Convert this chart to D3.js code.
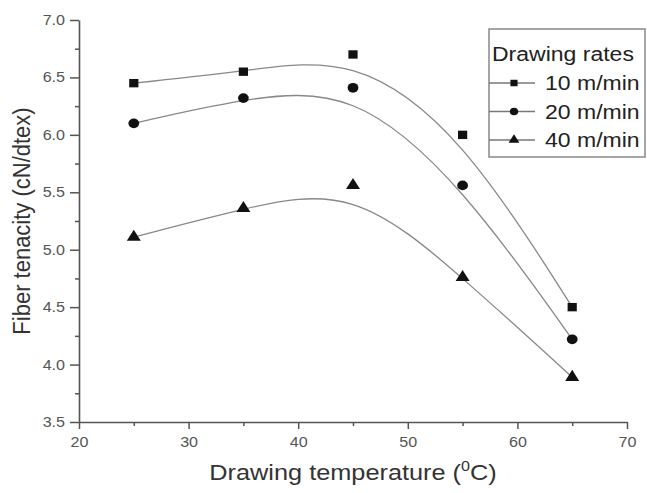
<!DOCTYPE html>
<html lang="en">
<meta charset="utf-8">
<script src="https://d3js.org/d3.v7.min.js"></script>
<style>
  body { margin: 0; background: #fff; }
  text { font-family: "Liberation Sans", Arial, sans-serif; }
</style>
<svg id="base" width="647" height="493"></svg>

<script>
    // values
    var temps = [25, 35, 45, 55, 65];
    var rate10 = [6.45, 6.55, 6.70, 6.00, 4.50];
    var rate20 = [6.10, 6.32, 6.41, 5.56, 4.22];
    var rate40 = [5.11, 5.36, 5.56, 4.76, 3.89];
    var seriesNames = ["10 m/min", "20 m/min", "40 m/min"];
    var xTicks = [20, 30, 40, 50, 60, 70];
    var xMinor = [25, 35, 45, 55, 65];
    var yTicks = [3.5, 4.0, 4.5, 5.0, 5.5, 6.0, 6.5, 7.0];
    var yMinor = [3.75, 4.25, 4.75, 5.25, 5.75, 6.25, 6.75];

    var mLeft = 79, mRight = 627, mTop = 20, mBottom = 422;
    var stretch = 1.15; // the picture is a bit wide

    var svg = d3.select("#base");

    var x = d3.scaleLinear().domain([20, 70]).range([mLeft, mRight]);
    var y = d3.scaleLinear().domain([3.5, 7.0]).range([mBottom, mTop]);

    function widen(sel) {
        sel.each(function () {
            var w = this.getComputedTextLength();
            this.setAttribute("textLength", w * stretch);
            this.setAttribute("lengthAdjust", "spacingAndGlyphs");
        });
    }

    // minor ticks first
    svg.append("g")
        .attr("transform", "translate(0," + mBottom + ")")
        .call(d3.axisBottom(x).tickValues(xMinor).tickSize(4).tickFormat(""))
        .call(function (g) { g.select(".domain").remove(); });
    svg.append("g")
        .attr("transform", "translate(" + mLeft + ",0)")
        .call(d3.axisLeft(y).tickValues(yMinor).tickSize(4).tickFormat(""))
        .call(function (g) { g.select(".domain").remove(); });

    svg.append("g")
        .attr("transform", "translate(0," + mBottom + ")")
        .call(d3.axisBottom(x).tickValues(xTicks).tickSizeInner(7).tickSizeOuter(0).tickPadding(8));

    svg.append("g")
        .attr("transform", "translate(" + mLeft + ",0)")
        .call(d3.axisLeft(y).tickValues(yTicks).tickSizeInner(9).tickSizeOuter(0).tickPadding(5)
            .tickFormat(d3.format(".1f")));

    svg.selectAll(".tick line").attr("stroke", "#555").attr("stroke-width", 1.5);
    svg.selectAll(".domain").attr("stroke", "#555").attr("stroke-width", 1.6);
    svg.selectAll(".tick text")
        .attr("fill", "#555")
        .attr("font-size", 14)
        .style("font-size", "14px")
        .call(widen);

    // axis titles
    var xl = svg.append("text")
        .attr("x", (mLeft + mRight) / 2)
        .attr("y", 480)
        .attr("text-anchor", "middle")
        .attr("fill", "#333")
        .style("font-size", "22px");
    xl.append("tspan").text("Drawing temperature (");
    xl.append("tspan").attr("dy", -9).style("font-size", "14px").text("0");
    xl.append("tspan").attr("dy", 9).text("C)");
    xl.call(widen);

    svg.append("text")
        .attr("transform", "translate(30," + ((mTop + mBottom) / 2) + ") scale(1.12,1) rotate(-90)")
        .attr("text-anchor", "middle")
        .attr("fill", "#333")
        .style("font-size", "22px")
        .text("Fiber tenacity (cN/dtex)");

    var series = [rate10, rate20, rate40];
    var shapes = [d3.symbolSquare, d3.symbolCircle, d3.symbolTriangle];
    var sizes = [70, 75, 70];

    var line = d3.line()
        .x(function (d) { return x(d[0]); })
        .y(function (d) { return y(d[1]); })
        .curve(d3.curveBasis);

    series.forEach(function (vals, i) {
        var pts = temps.map(function (t, j) { return [t, vals[j]]; });
        svg.append("path")
            .datum(pts)
            .attr("d", line)
            .attr("fill", "none")
            .attr("stroke", "#888")
            .attr("stroke-width", 1.3);
        svg.append("g")
            .selectAll("path")
            .data(pts)
            .enter()
            .append("path")
            .attr("d", d3.symbol().type(shapes[i]).size(sizes[i]))
            .attr("transform", function (d) {
                return "translate(" + x(d[0]) + "," + y(d[1]) + ") scale(1.1,1)";
            })
            .attr("fill", "#111");
    });

    // legend
    var lg = svg.append("g");
    lg.append("rect")
        .attr("x", 489).attr("y", 29)
        .attr("width", 156).attr("height", 128)
        .attr("fill", "#fff")
        .attr("stroke", "#888")
        .attr("stroke-width", 1.5);
    lg.append("text")
        .attr("x", 492).attr("y", 61)
        .attr("fill", "#222")
        .style("font-size", "20px")
        .text("Drawing rates")
        .call(widen);
    seriesNames.forEach(function (name, i) {
        var cy = 83 + i * 28.5;
        lg.append("line")
            .attr("x1", 489).attr("x2", 535)
            .attr("y1", cy).attr("y2", cy)
            .attr("stroke", "#777")
            .attr("stroke-width", 1.3);
        lg.append("path")
            .attr("d", d3.symbol().type(shapes[i]).size(sizes[i] * 0.6))
            .attr("transform", "translate(514," + cy + ") scale(1.1,1)")
            .attr("fill", "#111");
        lg.append("text")
            .attr("x", 545).attr("y", cy + 7)
            .attr("fill", "#222")
            .style("font-size", "20px")
            .text(name)
            .call(widen);
    });
</script>
</html>
